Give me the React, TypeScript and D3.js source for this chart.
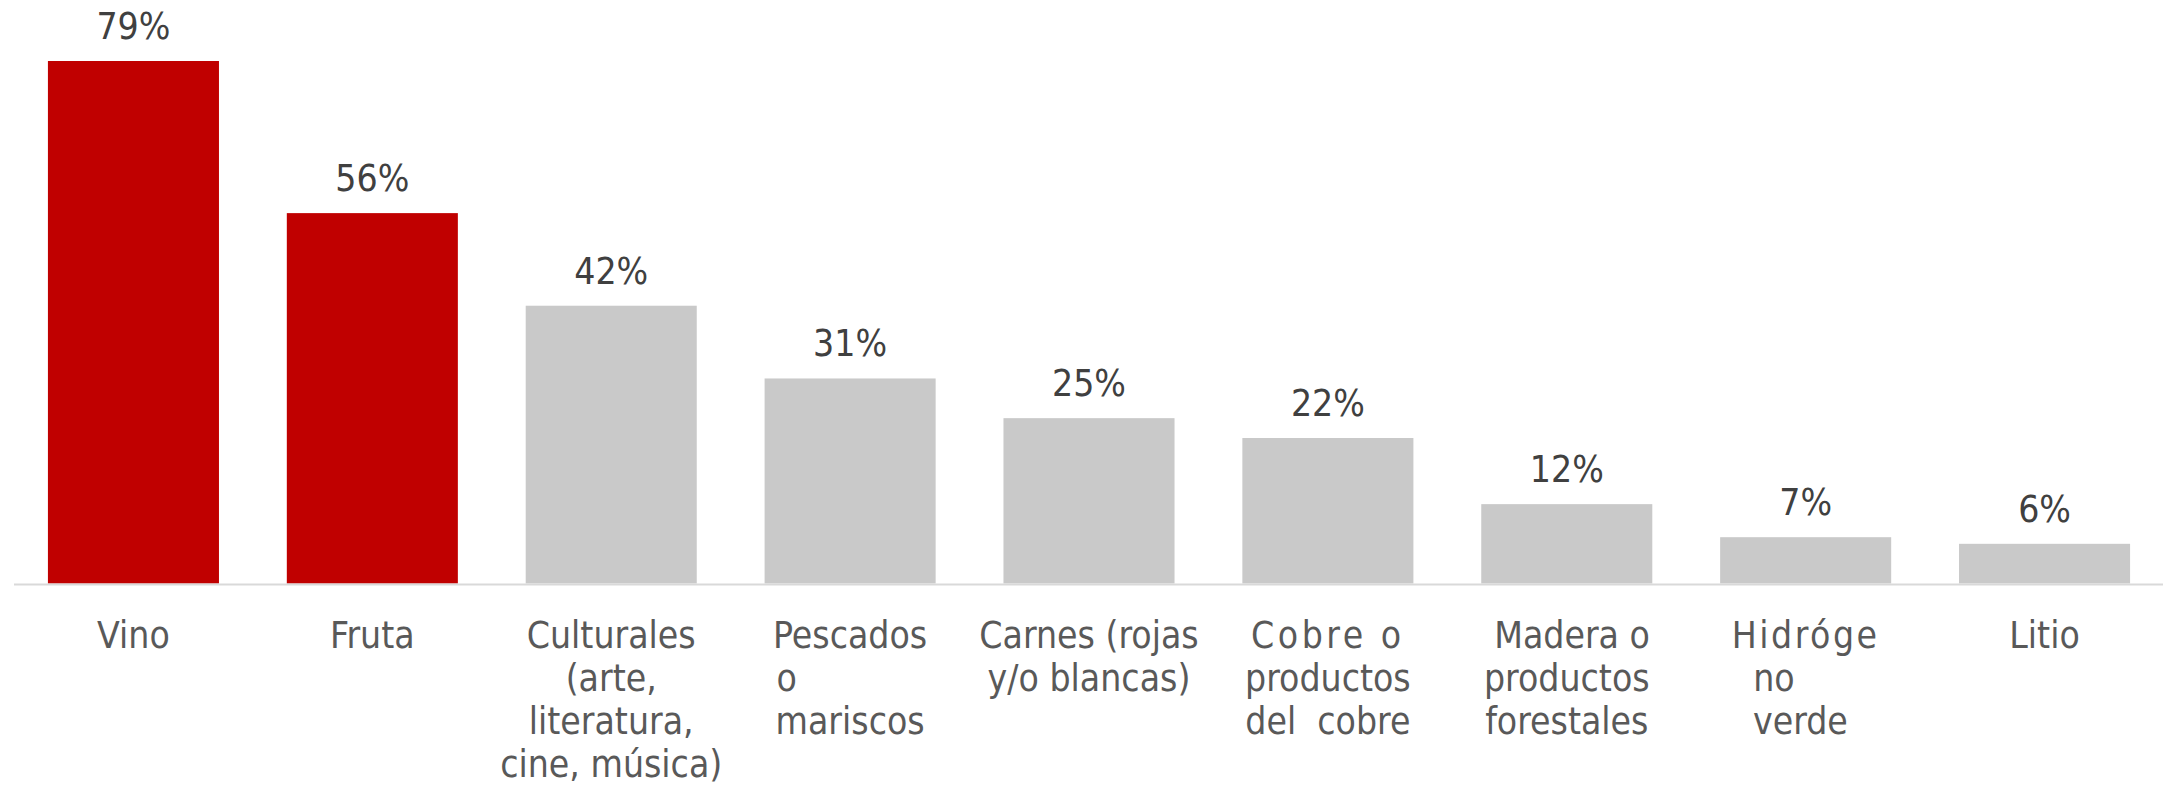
import React from "react";
import * as d3 from "d3";

const categories: string[][] = [
  ["Vino"],
  ["Fruta"],
  ["Culturales", "(arte,", "literatura,", "cine, música)"],
  ["Pescados", "o            ", "mariscos"],
  ["Carnes (rojas", "y/o blancas)"],
  ["Cobre o", "productos", "del  cobre"],
  [" Madera o", "productos", "forestales"],
  ["Hidróge", "no      ", "verde "],
  ["Litio"],
];
const values: number[] = [0.79, 0.56, 0.42, 0.31, 0.25, 0.22, 0.12, 0.07, 0.06];
const highlighted: boolean[] = [true, true, false, false, false, false, false, false, false];
const spacedLabels: number[] = [0, 0, 0, 0, 0, 3.5, 0, 2.5, 0];

const W = 2165;
const H = 785;
const FONT = "'DejaVu Sans Condensed', 'DejaVu Sans', sans-serif";

export default function App() {
  const idx = values.map((_, i) => String(i));
  const x = d3.scaleBand<string>().domain(idx).range([14, 2164]).paddingInner(0.284).paddingOuter(0.142);
  const y = d3.scaleLinear().domain([0, 0.79]).range([583.5, 61]);
  const fmt = d3.format(".0%");
  const lineH = 43;

  return (
    <div style={{ position: "absolute", left: 0, top: 0 }}>
      <svg width={W} height={H} style={{ display: "block", background: "#fff" }}>
        {values.map((v, i) => (
          <rect
            key={"b" + i}
            x={x(String(i))}
            y={y(v)}
            width={x.bandwidth()}
            height={y(0) - y(v)}
            fill={highlighted[i] ? "#C00000" : "#C9C9C9"}
          />
        ))}
        <line x1={14} x2={2163} y1={584.5} y2={584.5} stroke="#D9D9D9" strokeWidth={2} />
        {values.map((v, i) => (
          <text
            key={"v" + i}
            x={(x(String(i)) as number) + x.bandwidth() / 2}
            y={y(v) - 22}
            textAnchor="middle"
            fontFamily={FONT}
            fontSize={37}
            fontStretch="condensed"
            fill="#404040"
          >
            {fmt(v)}
          </text>
        ))}
        {categories.map((lines, i) => (
          <text
            key={"c" + i}
            textAnchor="middle"
            fontFamily={FONT}
            fontSize={37}
            fontStretch="condensed"
            fill="#595959"
            style={{ whiteSpace: "pre" }}
          >
            {lines.map((ln, j) => (
              <tspan
                key={j}
                x={(x(String(i)) as number) + x.bandwidth() / 2}
                y={648 + j * lineH}
                letterSpacing={j === 0 ? spacedLabels[i] : 0}
              >
                {ln}
              </tspan>
            ))}
          </text>
        ))}
      </svg>
    </div>
  );
}
